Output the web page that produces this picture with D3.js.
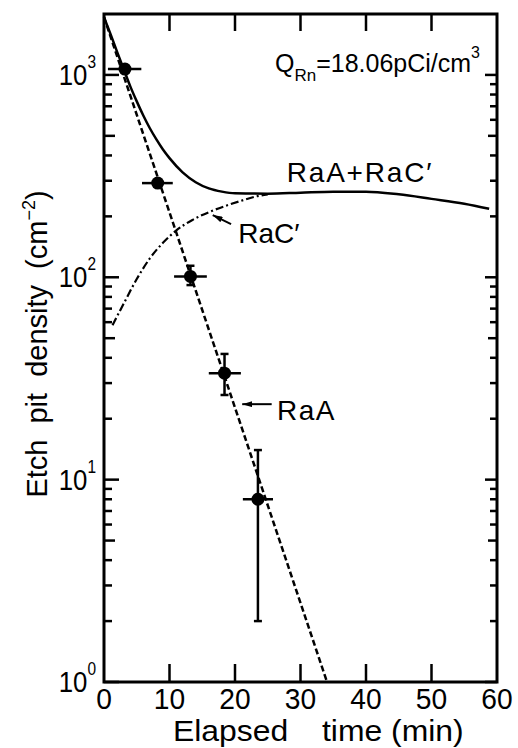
<!DOCTYPE html>
<html>
<head>
<meta charset="utf-8">
<script src="https://cdn.jsdelivr.net/npm/d3@7/dist/d3.min.js"></script>
<style>
  html, body { margin: 0; padding: 0; background: #fff; }
  svg { display: block; }
  text { font-family: "Liberation Sans", Arial, sans-serif; fill: #000; }
</style>
</head>
<body>
<svg id="chart" width="518" height="748"></svg>
<script>
// Measured etch pit densities (with time-window and counting error bars)
const pointTime        = [3.2, 8.2, 13.2, 18.4, 23.5];
const pointDensity     = [1069, 292, 101, 33.6, 8.0];
const pointTimeLow     = [0.6, 5.8, 10.7, 16.0, 21.2];
const pointTimeHigh    = [5.7, 10.5, 15.7, 20.9, 25.8];
const pointDensityLow  = [null, null, 91.5, 26.2, 2.0];
const pointDensityHigh = [null, null, 114, 41.8, 14];

// RaA decay (straight line on the log axis)
const raaTime    = [0, 34.05];
const raaDensity = [1930, 1];

// RaC' growth
const racTime    = [1.3, 3.0, 5.0, 7.0, 9.0, 11.0, 13.5, 16.2, 18.5, 20.8, 23.0, 25.0];
const racDensity = [58, 74, 98, 124, 148, 170, 192, 211, 225, 238, 250, 257];

// RaA + RaC' total
const sumTime    = [0, 1, 2, 3, 4, 5, 6, 7, 8, 9, 10, 12, 14, 16, 18, 20, 25, 30, 35, 40, 45, 50, 55, 58.8];
const sumDensity = [1930, 1590, 1300, 1070, 880, 740, 630, 545, 480, 428, 388, 330, 295, 275, 265, 260, 259, 262, 265, 265, 257, 244, 231, 218];

// Axis ticks
const xTicks = [0, 10, 20, 30, 40, 50, 60];
const yTickExponents = [0, 1, 2, 3];

const svg = d3.select("#chart");
const x = d3.scaleLinear().domain([0, 60]).range([104, 497]);
const y = d3.scaleLog().domain([1, 2000]).range([682, 14]);

const X0 = x(0), X1 = x(60), Y0 = y(1), Y1 = y(2000);

// Frame
svg.append("rect")
  .attr("x", X0).attr("y", Y1)
  .attr("width", X1 - X0).attr("height", Y0 - Y1)
  .attr("fill", "none").attr("stroke", "#000").attr("stroke-width", 3);

// X ticks, bottom and top, pointing inward
const innerX = xTicks.filter(d => d > 0 && d < 60);
svg.append("g").selectAll("line").data(innerX).join("line")
  .attr("x1", d => x(d)).attr("x2", d => x(d))
  .attr("y1", Y0).attr("y2", Y0 - 18)
  .attr("stroke", "#000").attr("stroke-width", 2.5);
svg.append("g").selectAll("line").data(innerX).join("line")
  .attr("x1", d => x(d)).attr("x2", d => x(d))
  .attr("y1", Y1).attr("y2", Y1 + 17)
  .attr("stroke", "#000").attr("stroke-width", 2.5);

// Y ticks (log), left and right, pointing inward
const yTickVals = [];
yTickExponents.forEach(e => {
  const base = Math.pow(10, e);
  yTickVals.push({ v: base, kind: "major" });
  if (e < 3) {
    for (let m = 2; m <= 9; m++) yTickVals.push({ v: base * m, kind: m === 5 ? "mid" : "minor" });
  }
});
const leftLen = { major: 15, mid: 11, minor: 8 };
const rightLen = { major: 12, mid: 9, minor: 7 };
svg.append("g").selectAll("line").data(yTickVals).join("line")
  .attr("x1", X0).attr("x2", d => X0 + leftLen[d.kind])
  .attr("y1", d => y(d.v)).attr("y2", d => y(d.v))
  .attr("stroke", "#000").attr("stroke-width", 2.5);
svg.append("g").selectAll("line").data(yTickVals).join("line")
  .attr("x1", X1).attr("x2", d => X1 - rightLen[d.kind])
  .attr("y1", d => y(d.v)).attr("y2", d => y(d.v))
  .attr("stroke", "#000").attr("stroke-width", 2.5);

// X tick labels (slightly condensed lettering)
svg.append("g").selectAll("text").data(xTicks).join("text")
  .attr("transform", d => `translate(${x(d)},${Y0 + 27}) scale(0.94,1)`)
  .attr("text-anchor", "middle")
  .attr("font-size", 30)
  .text(d => d);

// Y tick labels as powers of ten
const yLab = svg.append("g").selectAll("text").data(yTickExponents).join("text")
  .attr("transform", d => `translate(96,${y(Math.pow(10, d)) + 10}) scale(0.86,1)`)
  .attr("text-anchor", "end")
  .attr("font-size", 30);
yLab.append("tspan").text("10");
yLab.append("tspan")
  .attr("font-size", 18).attr("dy", -17)
  .text(d => d);

// Axis titles
const xTitle = svg.append("text")
  .attr("transform", "translate(173,741) scale(1.1,1)")
  .attr("font-size", 29);
xTitle.append("tspan").text("Elapsed");
xTitle.append("tspan").attr("x", (322 - 173) / 1.1).text("time (min)");

const yTitle = svg.append("text")
  .attr("transform", "translate(47,344) rotate(-90)")
  .attr("text-anchor", "middle")
  .attr("font-size", 29)
  .style("word-spacing", "8px");
yTitle.append("tspan").text("Etch pit density (cm");
yTitle.append("tspan").attr("font-size", 18).attr("dy", -12).text("−2");
yTitle.append("tspan").attr("dy", 12).text(")");

// Curves
const line = d3.line()
  .x(d => x(d[0])).y(d => y(d[1]))
  .curve(d3.curveMonotoneX);

svg.append("path")
  .datum(d3.zip(sumTime, sumDensity))
  .attr("d", line)
  .attr("fill", "none").attr("stroke", "#000").attr("stroke-width", 2.5);

svg.append("path")
  .datum(d3.zip(racTime, racDensity))
  .attr("d", line)
  .attr("fill", "none").attr("stroke", "#000").attr("stroke-width", 2.2)
  .attr("stroke-dasharray", "8 3 2 3");

svg.append("path")
  .datum(d3.zip(raaTime, raaDensity))
  .attr("d", d3.line().x(d => x(d[0])).y(d => y(d[1])))
  .attr("fill", "none").attr("stroke", "#000").attr("stroke-width", 2.5)
  .attr("stroke-dasharray", "6 3");

// Data points with error bars
const pts = pointTime.map((t, i) => ({
  t, v: pointDensity[i],
  tLo: pointTimeLow[i], tHi: pointTimeHigh[i],
  vLo: pointDensityLow[i], vHi: pointDensityHigh[i]
}));
const pg = svg.append("g");
pg.selectAll("line.h").data(pts).join("line").attr("class", "h")
  .attr("x1", d => x(d.tLo)).attr("x2", d => x(d.tHi))
  .attr("y1", d => y(d.v)).attr("y2", d => y(d.v))
  .attr("stroke", "#000").attr("stroke-width", 2.5);
const withV = pts.filter(d => d.vLo != null);
pg.selectAll("line.v").data(withV).join("line").attr("class", "v")
  .attr("x1", d => x(d.t)).attr("x2", d => x(d.t))
  .attr("y1", d => y(d.vLo)).attr("y2", d => y(d.vHi))
  .attr("stroke", "#000").attr("stroke-width", 2.5);
pg.selectAll("line.cl").data(withV).join("line").attr("class", "cl")
  .attr("x1", d => x(d.t) - 4).attr("x2", d => x(d.t) + 4)
  .attr("y1", d => y(d.vLo)).attr("y2", d => y(d.vLo))
  .attr("stroke", "#000").attr("stroke-width", 2.5);
pg.selectAll("line.ch").data(withV).join("line").attr("class", "ch")
  .attr("x1", d => x(d.t) - 4).attr("x2", d => x(d.t) + 4)
  .attr("y1", d => y(d.vHi)).attr("y2", d => y(d.vHi))
  .attr("stroke", "#000").attr("stroke-width", 2.5);
pg.selectAll("circle").data(pts).join("circle")
  .attr("cx", d => x(d.t)).attr("cy", d => y(d.v)).attr("r", 6.5)
  .attr("fill", "#000");

// Arrowheads for the curve labels
svg.append("defs").append("marker")
  .attr("id", "arrow").attr("viewBox", "0 0 10 6")
  .attr("refX", 10).attr("refY", 3)
  .attr("markerWidth", 10).attr("markerHeight", 6)
  .attr("markerUnits", "userSpaceOnUse")
  .attr("orient", "auto")
  .append("path").attr("d", "M0,0 L10,3 L0,6 Z").attr("fill", "#000");

// Labels
svg.append("text")
  .attr("x", x(27.9)).attr("y", y(295))
  .attr("font-size", 28)
  .attr("letter-spacing", 1.8)
  .text("RaA+RaC′");

svg.append("text")
  .attr("x", x(20.5)).attr("y", y(148))
  .attr("font-size", 28)
  .text("RaC′");
svg.append("line")
  .attr("x1", x(19.4)).attr("y1", y(183))
  .attr("x2", x(16.6)).attr("y2", y(203))
  .attr("stroke", "#000").attr("stroke-width", 2)
  .attr("marker-end", "url(#arrow)");

svg.append("text")
  .attr("x", x(26.4)).attr("y", y(19.7))
  .attr("font-size", 28)
  .attr("letter-spacing", 1.5)
  .text("RaA");
svg.append("line")
  .attr("x1", x(25.6)).attr("y1", y(23.6))
  .attr("x2", x(21.1)).attr("y2", y(23.6))
  .attr("stroke", "#000").attr("stroke-width", 2)
  .attr("marker-end", "url(#arrow)");

const q = svg.append("text")
  .attr("x", x(26.1)).attr("y", y(1032))
  .attr("font-size", 25);
q.append("tspan").text("Q");
q.append("tspan").attr("font-size", 17).attr("dy", 9).text("Rn");
q.append("tspan").attr("dy", -9).text("=18.06pCi/cm");
q.append("tspan").attr("font-size", 16).attr("dy", -14).text("3");
</script>
</body>
</html>
